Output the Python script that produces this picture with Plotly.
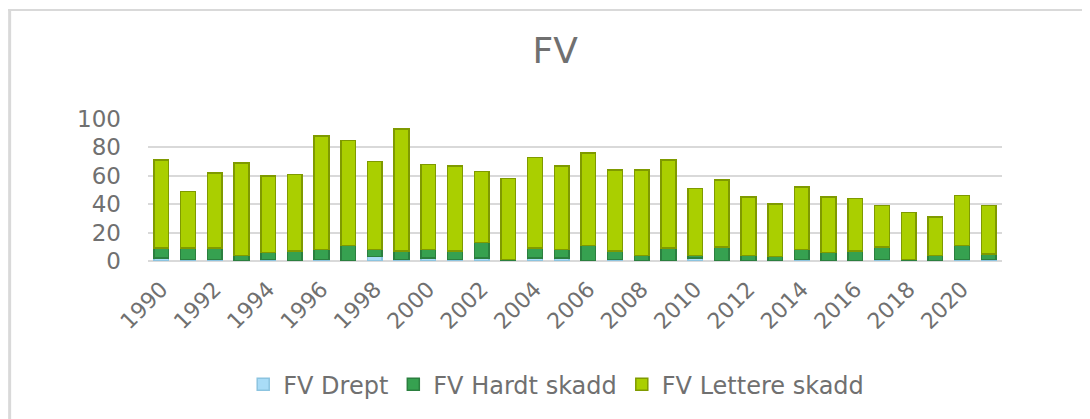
"""FV casualties per year - stacked bar chart (Excel-style look)."""
import plotly.graph_objects as go

years = list(range(1990, 2022))
drept = [2, 1, 1, 0, 1, 0, 1, 0, 3, 1, 2, 1, 2, 0, 2, 2,
         0, 1, 0, 0, 2, 0, 0, 0, 1, 0, 0, 1, 0, 0, 1, 1]
hardt = [7, 8, 8, 4, 5, 7, 7, 11, 5, 6, 6, 6, 11, 1, 7, 6,
         11, 6, 4, 9, 2, 10, 4, 3, 7, 6, 7, 9, 1, 4, 10, 4]
total = [71, 49, 62, 69, 60, 61, 88, 85, 70, 93, 68, 67, 63, 58, 73, 67,
         76, 64, 64, 71, 51, 57, 45, 40, 52, 45, 44, 39, 34, 31, 46, 39]
lettere = [t - h - d for t, h, d in zip(total, hardt, drept)]

tick_years = [str(y) for y in range(1990, 2022, 2)]

_GREY = "#707070"
_FONT = "DejaVu Sans"

fig = go.Figure()
for name, vals, color, edge in (
    ("FV Drept", drept, "#a9dcf7", "#8cc4e0"),
    ("FV Hardt skadd", hardt, "#36a150", "#2b7f3f"),
    ("FV Lettere skadd", lettere, "#aacf00", "#7f9a00"),
):
    fig.add_trace(go.Bar(
        x=[str(y) for y in years],
        y=vals,
        name=name,
        marker=dict(color=color, line=dict(color=edge, width=1.5)),
        width=0.55,
    ))

fig.update_layout(
    barmode="stack",
    width=1090,
    height=419,
    paper_bgcolor="white",
    plot_bgcolor="white",
    font=dict(family=_FONT, color=_GREY),
    title=dict(text="FV", x=0.502, xanchor="center", y=0.9, yanchor="middle",
               font=dict(size=36, color=_GREY, family=_FONT)),
    margin=dict(l=140, r=96, t=111, b=166),
    xaxis=dict(
        type="category",
        tickmode="array",
        tickvals=tick_years,
        ticktext=tick_years,
        tickangle=-45,
        tickfont=dict(size=22, color=_GREY),
        showgrid=False,
        showline=False,
        ticks="",
        ticklabelstandoff=10,
        automargin=False,
    ),
    yaxis=dict(
        range=[0, 100],
        dtick=20,
        tickfont=dict(size=23, color=_GREY),
        gridcolor="#d9d9d9",
        gridwidth=2,
        zeroline=True,
        zerolinecolor="#d9d9d9",
        zerolinewidth=2,
        ticks="",
        ticklabelstandoff=26,
        automargin=False,
    ),
    legend=dict(
        orientation="h",
        x=0.478, xanchor="center",
        y=-0.87, yanchor="middle",
        font=dict(size=24, color=_GREY),
        traceorder="normal",
        itemwidth=30,
    ),
    bargap=0.45,
    shapes=[
        dict(type="line", xref="paper", yref="paper",
             x0=-0.164, x1=1.2, y0=1.768, y1=1.768,
             line=dict(color="#d9d9d9", width=2)),
        dict(type="line", xref="paper", yref="paper",
             x0=-0.162, x1=-0.162, y0=1.768, y1=-1.2,
             line=dict(color="#d9d9d9", width=3)),
    ],
)

fig.write_html("out.html")
